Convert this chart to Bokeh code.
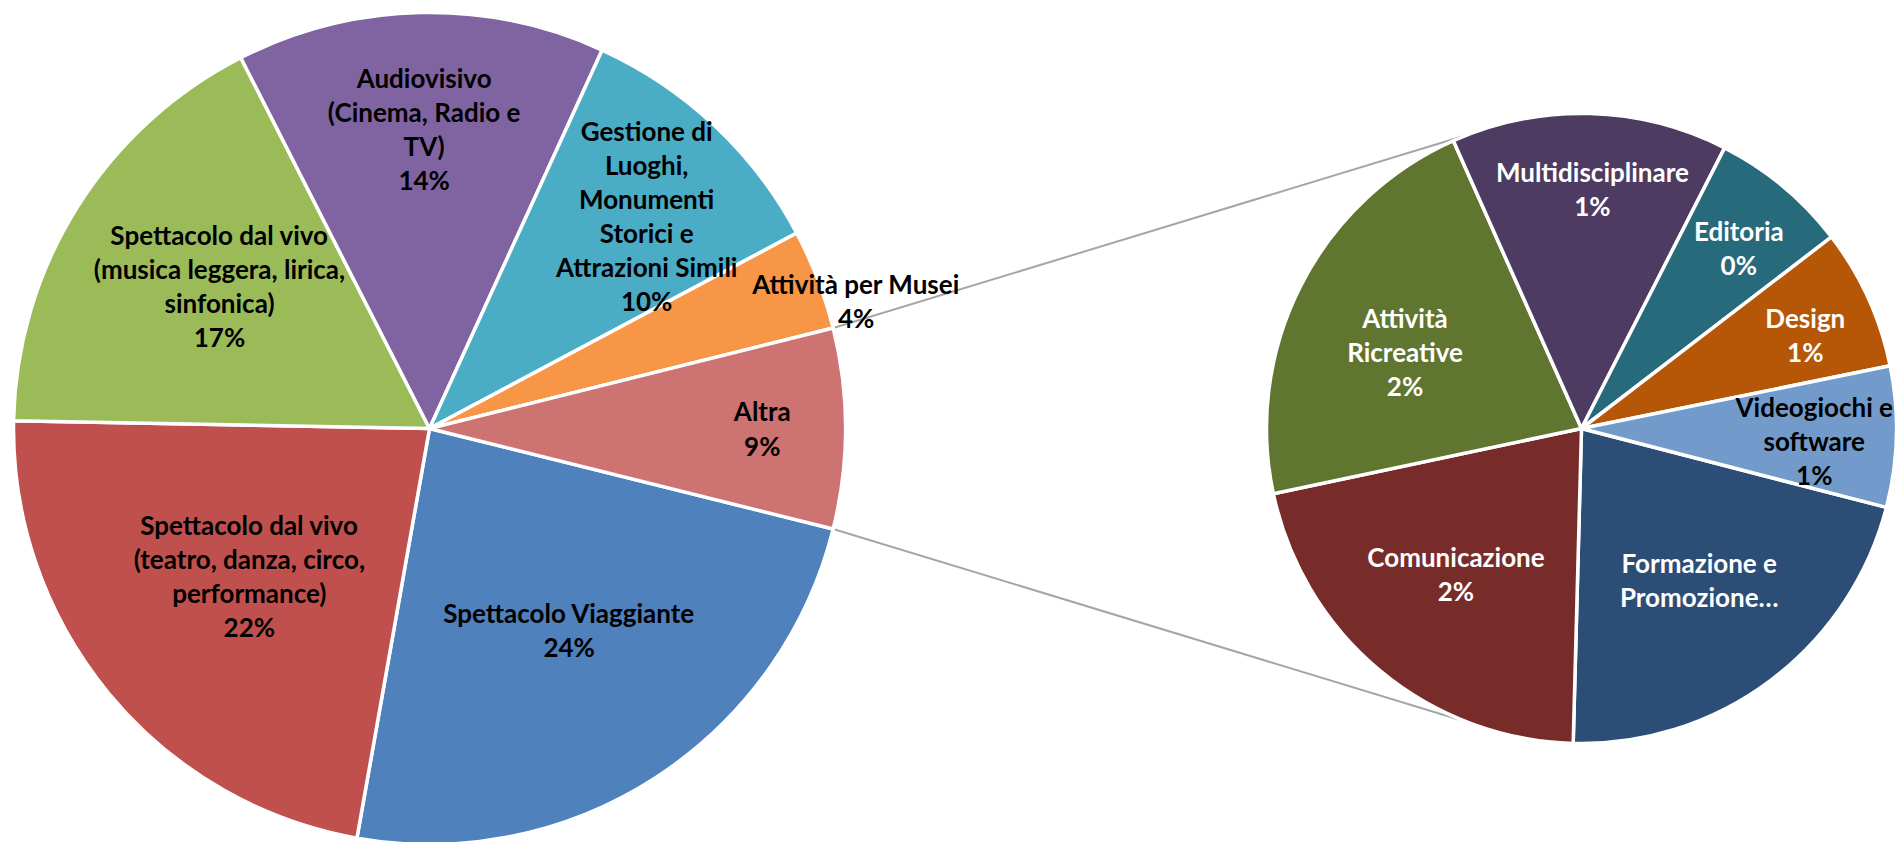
import math
from bokeh.plotting import figure
from bokeh.models import Range1d, ColumnDataSource
from bokeh.core.properties import value
from bokeh.embed import file_html
from bokeh.resources import INLINE

# ---------------- data (percent of total) ----------------
main_names = ["Spettacolo Viaggiante",
              "Spettacolo dal vivo\n(teatro, danza, circo,\nperformance)",
              "Spettacolo dal vivo\n(musica leggera, lirica,\nsinfonica)",
              "Audiovisivo\n(Cinema, Radio e\nTV)",
              "Gestione di\nLuoghi,\nMonumenti\nStorici e\nAttrazioni Simili",
              "Attività per Musei",
              "Altra"]
main_values = [23.9, 22.5, 17.2, 14.3, 10.4, 3.9, None]   # Altra = sum of the secondary pie
main_pct = ["24%", "22%", "17%", "14%", "10%", "4%", "9%"]
main_colors = ["#4F81BD", "#C0504D", "#9BBB59", "#8064A2", "#4BACC6", "#F79646", "#CD7371"]

sec_names = ["Formazione e\nPromozione…", "Comunicazione", "Attività\nRicreative",
             "Multidisciplinare", "Editoria", "Design", "Videogiochi e\nsoftware"]
sec_values = [1.66, 1.65, 1.68, 1.10, 0.55, 0.56, 0.56]
sec_pct = ["", "2%", "2%", "1%", "0%", "1%", "1%"]
sec_colors = ["#2C4D75", "#772C2A", "#5F7530", "#4D3B62", "#276A7C", "#B65708", "#729ACA"]
sec_text_colors = ["white", "white", "white", "white", "white", "white", "black"]

main_values[-1] = sum(sec_values)

# ---------------- layout ----------------
W, H = 1899, 842
PAGE_H = 842
def Y(page_y):
    return PAGE_H - page_y

C1 = (429, Y(428)); R1 = 416
C2 = (1581, Y(428)); R2 = 315
sec_start = -14.5
main_lab_frac = [0.59, 0.56, 0.61, 0.72, 0.73, 1.07, 0.80]
main_lab_nudge = [1.7, -0.1, -2.1, -0.2, -2.4, -4.4, 0.0]
sec_lab_frac = [0.61, 0.61, 0.61, 0.76, 0.76, 0.77, 0.74]
sec_lab_nudge = [0.8, -1.0, 3.7, -1.1, -1.3, -1.8, -1.6]
FONT = "Lato"
FSIZE = "26px"
LINE_H = 1.065


def wedges(vals, start):
    """clockwise slices starting at angle `start` (deg)."""
    tot = sum(vals)
    s, e, mids = [], [], []
    cum = 0.0
    for v in vals:
        a0 = start - cum
        cum += v / tot * 360.0
        a1 = start - cum
        s.append(a1); e.append(a0); mids.append((a0 + a1) / 2)
    return s, e, mids


altra_half = main_values[-1] / sum(main_values) * 360.0 / 2
m_s, m_e, m_mid = wedges(main_values, -altra_half)
s_s, s_e, s_mid = wedges(sec_values, sec_start)

p = figure(width=W, height=H, x_range=Range1d(0, W), y_range=Range1d(PAGE_H - H, PAGE_H),
           output_backend="svg", toolbar_location=None, min_border=0)
p.axis.visible = False
p.grid.visible = False
p.outline_line_color = None
p.background_fill_color = "white"
p.border_fill_color = "white"

# connector lines from the "Altra" slice to the secondary pie
a = math.radians(altra_half)
b = math.radians(111.0)
x0 = C1[0] + R1 * math.cos(a)
x1 = C2[0] + R2 * math.cos(b)
p.segment(x0=[x0, x0], y0=[C1[1] + R1 * math.sin(a), C1[1] - R1 * math.sin(a)],
          x1=[x1, x1], y1=[C2[1] + R2 * math.sin(b), C2[1] - R2 * math.sin(b)],
          line_color="#A6A6A6", line_width=2)

src1 = ColumnDataSource(dict(start=m_s, end=m_e, color=main_colors))
p.wedge(x=C1[0], y=C1[1], radius=R1, start_angle="start", end_angle="end",
        start_angle_units="deg", end_angle_units="deg",
        fill_color="color", line_color="white", line_width=3.5, source=src1)
src2 = ColumnDataSource(dict(start=s_s, end=s_e, color=sec_colors))
p.wedge(x=C2[0], y=C2[1], radius=R2, start_angle="start", end_angle="end",
        start_angle_units="deg", end_angle_units="deg",
        fill_color="color", line_color="white", line_width=3.5, source=src2)


def labels(center, r, mids, fracs, nudges, names, pcts):
    xs, ys, ts = [], [], []
    for m, f, n, nm, pc in zip(mids, fracs, nudges, names, pcts):
        ang = math.radians(m + n)
        xs.append(center[0] + f * r * math.cos(ang))
        ys.append(center[1] + f * r * math.sin(ang))
        ts.append(nm + ("\n" + pc if pc else ""))
    return xs, ys, ts


lx, ly, lt = labels(C1, R1, m_mid, main_lab_frac, main_lab_nudge, main_names, main_pct)
p.text(x=lx, y=ly, text=lt, text_font=value(FONT), text_font_style="bold", text_font_size=FSIZE,
       text_align="center", text_baseline="middle", text_color="black", text_line_height=LINE_H)
sx, sy, st = labels(C2, R2, s_mid, sec_lab_frac, sec_lab_nudge, sec_names, sec_pct)
src3 = ColumnDataSource(dict(x=sx, y=sy, t=st, c=sec_text_colors))
p.text(x="x", y="y", text="t", text_color="c", source=src3, text_font=value(FONT),
       text_font_style="bold", text_font_size=FSIZE, text_align="center", text_baseline="middle",
       text_line_height=LINE_H)

open("out.html", "w").write(file_html(p, INLINE))
